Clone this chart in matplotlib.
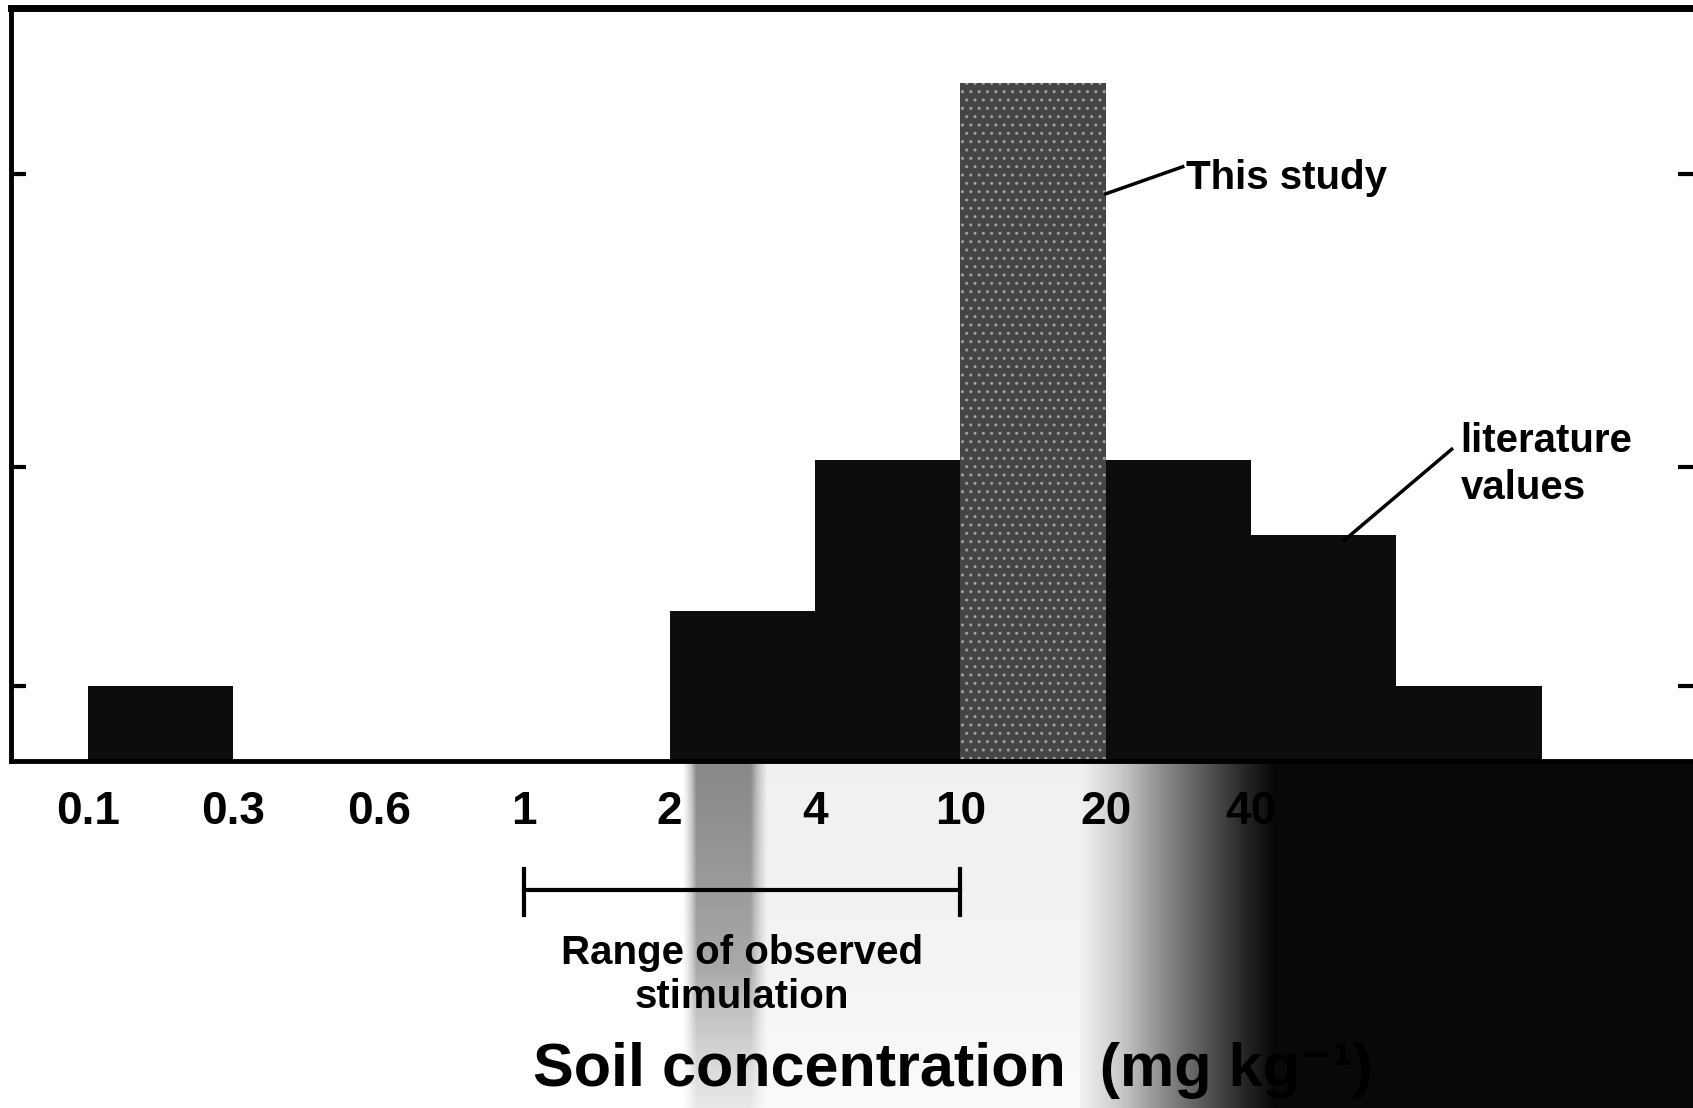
import numpy as np
import matplotlib
matplotlib.use('Agg')
import matplotlib.pyplot as plt

# histogram of soil concentrations, bins between the edge labels
edge_labels = ['0.1', '0.3', '0.6', '1', '2', '4', '10', '20', '40']
counts = [1, 0, 0, 0, 2, 4, 9, 4, 3, 1]
study_bin = 6          # bin 10-20 holds "This study"
ytick_vals = [1, 3.9, 7.8]
range_edges = ['1', '10']   # range of observed stimulation

plt.rcParams['font.family'] = ['Liberation Sans', 'DejaVu Sans']
plt.rcParams['font.weight'] = 'bold'

W, H = 1693, 1108
fig = plt.figure(figsize=(W / 100, H / 100), dpi=100)

# dark scan shading under the axis (bottom right of the original page)
shade = fig.add_axes([0, 0, 1, 0.313], zorder=0)
px = np.arange(W)
prof = np.interp(px, [0, 682, 696, 750, 767, 1080, 1144, 1209, 1274, W],
                 [0, 0, 0.55, 0.55, 0.12, 0.12, 0.45, 0.75, 0.97, 0.97])
rows = np.linspace(0, 1, 200)
fade = np.interp(rows, [0, 0.6, 1.0], [1.0, 0.8, 0.3])
img = np.where(px[None, :] < 1080, prof[None, :] * fade[:, None], prof[None, :])
shade.imshow(img, cmap='Greys', vmin=0, vmax=1, aspect='auto', extent=[0, 1, 0, 1])
shade.set_axis_off()

ax = fig.add_axes([0.0065, 0.313, 0.9935, 0.68], zorder=1)
x = np.arange(len(counts))
colors = ['#454545' if i == study_bin else '#0d0d0d' for i in range(len(counts))]
bars = ax.bar(x, counts, width=1.0, align='edge', color=colors, linewidth=0)
bars[study_bin].set_hatch('..')
bars[study_bin].set_edgecolor('#a0a0a0')
bars[study_bin].set_linewidth(0)

ax.set_xlim(-0.53, 11.04)
ax.set_ylim(0, 10)
ax.set_xticks(np.arange(len(edge_labels)))
ax.set_xticklabels(edge_labels, fontsize=33, fontweight='bold')
ax.tick_params(axis='x', length=0, pad=21)
ax.set_yticks(ytick_vals)
ax.tick_params(axis='y', left=True, right=True, direction='in', length=11, width=3,
               labelleft=False)
for s in ['left', 'bottom']:
    ax.spines[s].set_linewidth(3.5)
ax.spines['top'].set_linewidth(5)
ax.spines['right'].set_visible(False)

# annotations
ax.plot([7.0, 7.53], [7.53, 7.89], color='k', lw=2.5)
ax.text(7.55, 7.74, 'This study', fontsize=29, va='center', ha='left')
ax.plot([8.64, 9.38], [2.93, 4.14], color='k', lw=2.5)
ax.text(9.44, 3.94, 'literature\nvalues', fontsize=29, va='center', ha='left',
        linespacing=1.3)

lo = edge_labels.index(range_edges[0])
hi = edge_labels.index(range_edges[1])
ax.plot([lo, hi], [-1.71, -1.71], color='k', lw=3, clip_on=False)
for xe in (lo, hi):
    ax.plot([xe, xe], [-1.43, -2.04], color='k', lw=3, clip_on=False)
ax.text((lo + hi) / 2, -2.84, 'Range of observed\nstimulation', ha='center', va='center',
        fontsize=29, linespacing=1.2)

ax.text(3.06, -4.1, 'Soil concentration  (mg kg\u207b\u00b9)', ha='left', va='center',
        fontsize=44)

fig.savefig('out.png', dpi=100)
